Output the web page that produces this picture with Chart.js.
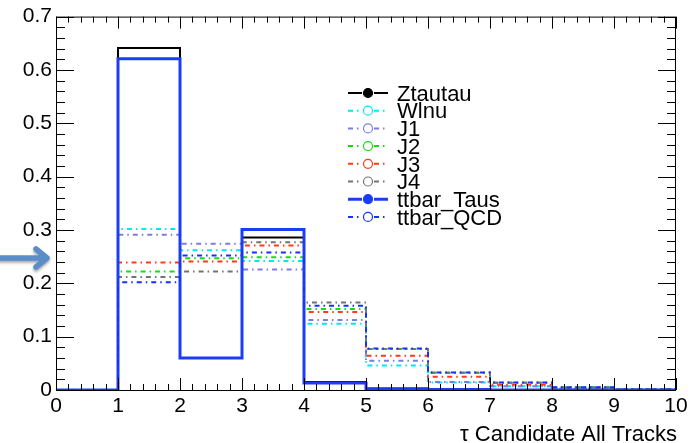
<!DOCTYPE html>
<html>
<head>
<meta charset="utf-8">
<script src="https://cdn.jsdelivr.net/npm/chart.js@4.4.0/dist/chart.umd.min.js"></script>
<style>
  html, body { margin: 0; padding: 0; background: #fff; }
  #wrap { position: relative; width: 694px; height: 443px; }
</style>
</head>
<body>
<div id="wrap"><canvas id="tauChart"></canvas></div>
<script>
// bin low edges (last entry closes the final bin)
const binEdges = [0, 1, 2, 3, 4, 5, 6, 7, 8, 9, 10];
const seriesNames = ['Ztautau', 'Wlnu', 'J1', 'J2', 'J3', 'J4', 'ttbar_Taus', 'ttbar_QCD'];

// normalised bin contents, one value per bin
const ztautau   = [0, 0.641, 0.060, 0.286, 0.015, 0.003, 0.001, 0, 0, 0];
const wlnu      = [0, 0.302, 0.262, 0.242, 0.124, 0.046, 0.014, 0.007, 0.003, 0.001];
const j1        = [0, 0.291, 0.274, 0.226, 0.131, 0.055, 0.015, 0.007, 0.003, 0.001];
const j2        = [0, 0.222, 0.247, 0.249, 0.152, 0.077, 0.032, 0.013, 0.005, 0.001];
const j3        = [0, 0.239, 0.241, 0.271, 0.146, 0.064, 0.025, 0.010, 0.004, 0.001];
const j4        = [0, 0.212, 0.222, 0.277, 0.164, 0.077, 0.033, 0.014, 0.005, 0.001];
const ttbarTaus = [0, 0.621, 0.060, 0.301, 0.013, 0.002, 0.001, 0, 0, 0];
const ttbarQcd  = [0, 0.202, 0.252, 0.258, 0.158, 0.078, 0.033, 0.014, 0.005, 0.001];

const xTicks = [0, 1, 2, 3, 4, 5, 6, 7, 8, 9, 10];
const yTicks = [0, 0.1, 0.2, 0.3, 0.4, 0.5, 0.6, 0.7];
const xTitle = 'τ Candidate All Tracks';

const FONT = '"Liberation Sans", Arial, Helvetica, sans-serif';
const dashDot = [5, 4, 1.5, 4];

// histogram outline: value of bin i holds from edge i to edge i+1
function toSteps(vals) {
    const pts = vals.map((v, i) => ({ x: binEdges[i], y: v }));
    pts.push({ x: binEdges[binEdges.length - 1], y: vals[vals.length - 1] });
    return pts;
}

const styles = [
    { color: '#000000', width: 2,   dash: [],      filled: true },
    { color: '#00e8f0', width: 2,   dash: dashDot, filled: false },
    { color: '#7b7be6', width: 2,   dash: dashDot, filled: false },
    { color: '#10e010', width: 2,   dash: dashDot, filled: false },
    { color: '#ff3a14', width: 2,   dash: dashDot, filled: false },
    { color: '#737373', width: 2,   dash: dashDot, filled: false },
    { color: '#1b3cf8', width: 3,   dash: [],      filled: true },
    { color: '#1530ff', width: 2,   dash: dashDot, filled: false },
];
const allValues = [ztautau, wlnu, j1, j2, j3, j4, ttbarTaus, ttbarQcd];

const datasets = seriesNames.map((name, i) => ({
    label: name,
    data: toSteps(allValues[i]),
    borderColor: styles[i].color,
    borderWidth: styles[i].width,
    borderDash: styles[i].dash,
    stepped: 'before',
    pointRadius: 0,
    fill: false,
    order: seriesNames.length - i, // later series drawn on top, like ROOT
    legendFilled: styles[i].filled
}));

// ROOT-like frame with inward ticks on all four sides
const frameTicks = {
    id: 'frameTicks',
    afterDatasetsDraw(chart) {
        const { ctx, chartArea: a, scales: { x, y } } = chart;
        ctx.save();
        ctx.strokeStyle = '#000';
        ctx.lineWidth = 1;
        ctx.setLineDash([]);
        ctx.strokeRect(a.left + 0.5, a.top + 0.5, a.right - a.left - 1, a.bottom - a.top);
        ctx.beginPath();
        for (let k = 0; k <= 50; k++) {
            const px = Math.round(x.getPixelForValue(k / 5)) + 0.5;
            const len = k % 5 === 0 ? 12 : 6;
            ctx.moveTo(px, a.bottom); ctx.lineTo(px, a.bottom - len);
            ctx.moveTo(px, a.top); ctx.lineTo(px, a.top + len);
        }
        for (let k = 0; k <= 35; k++) {
            const py = Math.round(y.getPixelForValue(k / 50)) + 0.5;
            const len = k % 5 === 0 ? 18 : 9;
            ctx.moveTo(a.left, py); ctx.lineTo(a.left + len, py);
            ctx.moveTo(a.right, py); ctx.lineTo(a.right - len, py);
        }
        ctx.stroke();

        // x axis title, right aligned to the frame
        ctx.fillStyle = '#000';
        ctx.font = '22px ' + FONT;
        ctx.textAlign = 'right';
        ctx.textBaseline = 'alphabetic';
        ctx.fillText(xTitle, a.right + 1, 441);
        ctx.restore();
    }
};

// legend box drawn inside the frame
const rootLegend = {
    id: 'rootLegend',
    afterDraw(chart) {
        const { ctx } = chart;
        const x0 = 348, x1 = 388, mx = 368, tx = 397, top = 93, step = 17.7;
        ctx.save();
        chart.data.datasets.forEach((ds, i) => {
            const yy = top + i * step;
            ctx.strokeStyle = ds.borderColor;
            ctx.lineWidth = ds.borderWidth;
            ctx.setLineDash(ds.borderDash);
            ctx.beginPath();
            ctx.moveTo(x0, yy); ctx.lineTo(mx - 6, yy);
            ctx.moveTo(mx + 6, yy); ctx.lineTo(x1, yy);
            ctx.stroke();
            ctx.setLineDash([]);
            ctx.lineWidth = 1.2;
            ctx.beginPath();
            ctx.arc(mx, yy, 4.5, 0, Math.PI * 2);
            if (ds.legendFilled) {
                ctx.fillStyle = ds.borderColor;
                ctx.fill();
            }
            ctx.stroke();
            ctx.fillStyle = '#000';
            ctx.font = '22px ' + FONT;
            ctx.textAlign = 'left';
            ctx.textBaseline = 'alphabetic';
            ctx.fillText(ds.label, tx, yy + 7.7);
        });
        ctx.restore();
    }
};

// blue pointer arrow on the left margin
const sideArrow = {
    id: 'sideArrow',
    afterDraw(chart) {
        const { ctx } = chart;
        ctx.save();
        ctx.shadowColor = 'rgba(0,0,0,0.35)';
        ctx.shadowBlur = 3;
        ctx.shadowOffsetY = 2;
        ctx.strokeStyle = '#5b8ec9';
        ctx.lineCap = 'round';
        ctx.lineJoin = 'round';
        ctx.lineWidth = 5.5;
        ctx.beginPath();
        ctx.moveTo(0, 258); ctx.lineTo(45, 258);
        ctx.moveTo(36, 249); ctx.lineTo(47, 258); ctx.lineTo(36, 267);
        ctx.stroke();
        ctx.restore();
    }
};

new Chart(document.getElementById('tauChart').getContext('2d'), {
    type: 'line',
    data: { datasets },
    plugins: [frameTicks, rootLegend, sideArrow],
    options: {
        responsive: true,
        maintainAspectRatio: false,
        animation: false,
        layout: { padding: { top: 12, right: 18, left: 0, bottom: 0 } },
        plugins: {
            legend: { display: false },
            tooltip: { enabled: false }
        },
        scales: {
            x: {
                type: 'linear',
                min: 0,
                max: 10,
                afterBuildTicks: (s) => { s.ticks = xTicks.map(v => ({ value: v })); },
                afterFit: (s) => { s.height = 53; },
                grid: { display: false, drawTicks: false },
                border: { display: false },
                ticks: { color: '#000', font: { family: FONT, size: 21 }, padding: 4, maxRotation: 0 }
            },
            y: {
                type: 'linear',
                min: 0,
                max: 0.7,
                afterBuildTicks: (s) => { s.ticks = yTicks.map(v => ({ value: v })); },
                afterFit: (s) => { s.width = 56; },
                grid: { display: false, drawTicks: false },
                border: { display: false },
                ticks: {
                    color: '#000',
                    font: { family: FONT, size: 21 },
                    padding: 4,
                    callback: (v) => v === 0 ? '0' : v.toFixed(1)
                }
            }
        }
    }
});
</script>
</body>
</html>
